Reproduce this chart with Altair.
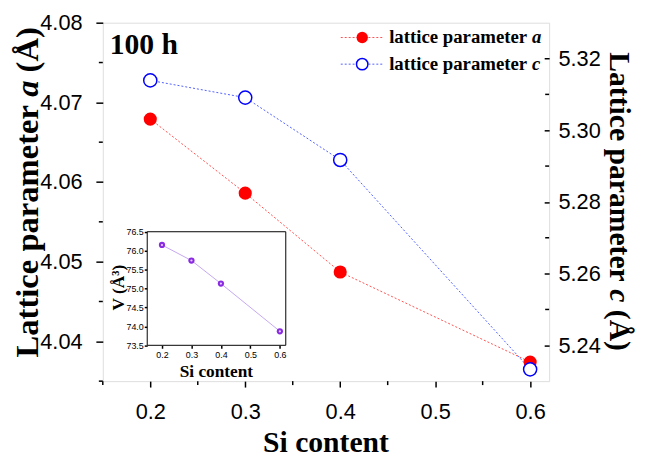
import altair as alt
import pandas as pd

# ---------------- data ----------------
si = [0.2, 0.3, 0.4, 0.6]
lat_a = [4.0679, 4.0586, 4.0487, 4.0374]
lat_c = [5.3139, 5.3091, 5.2917, 5.2333]
vol = [76.15, 75.74, 75.13, 73.87]

x_ticks = [0.2, 0.3, 0.4, 0.5, 0.6]
x_minor = [0.15, 0.25, 0.35, 0.45, 0.55]
a_ticks = [4.04, 4.05, 4.06, 4.07, 4.08]
a_minor = [4.035, 4.045, 4.055, 4.065, 4.075]
c_ticks = [5.24, 5.26, 5.28, 5.30, 5.32]
c_minor = [5.25, 5.27, 5.29, 5.31]
v_ticks = [73.5, 74.0, 74.5, 75.0, 75.5, 76.0, 76.5]

df = pd.DataFrame({"si": si, "a": lat_a, "c": lat_c, "v": vol})
one = pd.DataFrame({"k": [0]})

SERIF = "Liberation Serif"
SANS = "Liberation Sans"
W, H = 452, 363
XD = [0.15, 0.62]
AD = [4.035, 4.08]
CD = [5.23, 5.33]
VD = [73.5, 76.5]
IX0, IX1, IY0, IY1 = 45, 185.3, 211.7, 326.7  # inset box (plot coords)

RED = "#ff0000"
BLUE = "#0000ff"

# Times-Bold widths (per 1000 em)
TB = {"L": 667, "a": 500, "t": 333, "i": 278, "c": 444, "e": 444, " ": 250, "p": 556,
      "r": 444, "m": 833, "(": 333, ")": 333, "Å": 722, "l": 278}


def tw(s, size):
    return sum(TB.get(ch, 500) for ch in s) * size / 1000.0


def txt(s, x, y, size, angle=0, align="left", baseline="alphabetic",
        style="normal", family=SERIF, weight="bold"):
    return alt.Chart(one).mark_text(
        text=s, font=family, fontSize=size, fontWeight=weight, fontStyle=style,
        angle=angle, align=align, baseline=baseline, color="black"
    ).encode(x=alt.value(x), y=alt.value(y))


def xs(axis=None):
    return alt.X("si:Q", scale=alt.Scale(domain=XD, nice=False, zero=False), axis=axis)


ax_common = dict(labelFont=SANS, labelColor="black", tickColor="black", tickWidth=1.5,
                 domain=False, grid=False, title=None, labelFlush=False,
                 labelOverlap=False)

base = alt.Chart(df)

# inset background
inset_bg = alt.Chart(one).mark_rect(fill="white", stroke="black", strokeWidth=1).encode(
    x=alt.value(IX0), x2=alt.value(IX1), y=alt.value(IY0), y2=alt.value(IY1))

line_a = base.mark_line(color="#ff5050", strokeDash=[2, 2], strokeWidth=1).encode(
    x=xs(alt.Axis(orient="bottom", values=x_ticks, format=".1f", labelFontSize=22,
                  tickSize=6, labelPadding=15, **ax_common)),
    y=alt.Y("a:Q", scale=alt.Scale(domain=AD, nice=False, zero=False),
            axis=alt.Axis(orient="left", values=a_ticks, format=".2f", labelFontSize=22,
                          tickSize=7, labelPadding=14, **ax_common)))

line_c = base.mark_line(color="#5060ff", strokeDash=[2, 2], strokeWidth=1).encode(
    x=xs(),
    y=alt.Y("c:Q", scale=alt.Scale(domain=CD, nice=False, zero=False),
            axis=alt.Axis(orient="right", values=c_ticks, format=".2f", labelFontSize=22,
                          tickSize=5, offset=-5, labelPadding=9, **ax_common)))

pts_a = base.mark_point(shape="circle", filled=True, color=RED, size=177, opacity=1).encode(
    x=xs(), y=alt.Y("a:Q", scale=alt.Scale(domain=AD, nice=False, zero=False), axis=None))

pts_c = base.mark_point(shape="circle", filled=True, fill="white", stroke=BLUE,
                        strokeWidth=1.5, size=177, opacity=1).encode(
    x=xs(), y=alt.Y("c:Q", scale=alt.Scale(domain=CD, nice=False, zero=False), axis=None))

# minor ticks
mx = alt.Chart(pd.DataFrame({"m": x_minor})).mark_rule(color="black", strokeWidth=1.5).encode(
    x=alt.X("m:Q", scale=alt.Scale(domain=XD, nice=False, zero=False), axis=None),
    y=alt.value(H), y2=alt.value(H + 4))
ma = alt.Chart(pd.DataFrame({"m": a_minor})).mark_rule(color="black", strokeWidth=1.5).encode(
    y=alt.Y("m:Q", scale=alt.Scale(domain=AD, nice=False, zero=False), axis=None),
    x=alt.value(-4), x2=alt.value(0))
mc = alt.Chart(pd.DataFrame({"m": c_minor})).mark_rule(color="black", strokeWidth=1.5).encode(
    y=alt.Y("m:Q", scale=alt.Scale(domain=CD, nice=False, zero=False), axis=None),
    x=alt.value(W - 4), x2=alt.value(W))

# inset
ix = alt.X("si:Q", scale=alt.Scale(domain=XD, range=[IX0, IX1], nice=False, zero=False),
           axis=alt.Axis(orient="bottom", offset=IY1 - H, values=x_ticks, format=".1f",
                         labelFontSize=9, tickSize=3, labelPadding=2, **ax_common))
iy = alt.Y("v:Q", scale=alt.Scale(domain=VD, range=[IY1, IY0], nice=False, zero=False),
           axis=alt.Axis(orient="left", offset=-IX0, values=v_ticks, format=".1f",
                         labelFontSize=9, tickSize=3, labelPadding=1, **ax_common))
inset_line = base.mark_line(color="#c4a8f2", strokeWidth=1).encode(x=ix, y=iy)
ix2 = alt.X("si:Q", scale=alt.Scale(domain=XD, range=[IX0, IX1], nice=False, zero=False), axis=None)
iy2 = alt.Y("v:Q", scale=alt.Scale(domain=VD, range=[IY1, IY0], nice=False, zero=False), axis=None)
inset_pts = base.mark_point(shape="circle", filled=True, color="#8a2be2", size=40, opacity=1).encode(
    x=ix2, y=iy2)
inset_hl = base.mark_point(shape="circle", filled=True, color="#e6d0ff", size=5, opacity=1,
                           dx=-1, dy=-1).encode(x=ix2, y=iy2)

# texts
texts = []
texts.append(txt("100 h", 7, 32, 30))
# legend
for yy, col, filled, lab in [(15, "#ff5050", True, "a"), (42, "#5060ff", False, "c")]:
    texts.append(alt.Chart(one).mark_rule(color=col, strokeDash=[2, 2], strokeWidth=1).encode(
        x=alt.value(241), x2=alt.value(284), y=alt.value(yy)))
    if filled:
        texts.append(alt.Chart(one).mark_point(shape="circle", filled=True, color=RED, size=133,
                                               opacity=1).encode(x=alt.value(262.7), y=alt.value(yy)))
    else:
        texts.append(alt.Chart(one).mark_point(shape="circle", filled=True, fill="white", stroke=BLUE,
                                               strokeWidth=1.5, size=133, opacity=1).encode(
            x=alt.value(262.7), y=alt.value(yy)))
    s1 = "lattice parameter"
    texts.append(txt(s1, 290, yy, 19, baseline="middle"))
    texts.append(txt(lab, 290 + tw(s1 + " ", 19), yy, 19, baseline="middle", style="italic"))

# left title (reads bottom to top)
fL = 33
xL = -66
y0 = 339
s1 = "Lattice parameter"
texts.append(txt(s1, xL, y0, fL, angle=270))
ya = y0 - tw(s1 + " ", fL)
texts.append(txt("a", xL, ya, fL, angle=270, style="italic"))
yb = ya - tw("a ", fL)
texts.append(txt("(Å)", xL, yb, fL, angle=270))

# right title (reads top to bottom)
fR = 30
xR = 514
y0 = 30
texts.append(txt(s1, xR, y0, fR, angle=90))
ya = y0 + tw(s1 + " ", fR)
texts.append(txt("c", xR, ya, fR, angle=90, style="italic"))
yb = ya + tw("c ", fR)
texts.append(txt("(Å)", xR, yb, fR, angle=90))

# bottom title
texts.append(txt("Si content", W / 2, 435, 30, align="center"))
# inset titles
texts.append(txt("Si content", 115, 359, 17.5, align="center"))
texts.append(txt("V (Å³)", 21, 268.3, 17.5, angle=270, align="center"))

chart = alt.layer(
    inset_bg, line_a, line_c, pts_a, pts_c, mx, ma, mc,
    inset_line, inset_pts, inset_hl, *texts
).resolve_scale(x="independent", y="independent").properties(
    width=W, height=H,
    autosize=alt.AutoSizeParams(type="none"),
    padding={"left": 96, "top": 12, "right": 90, "bottom": 79},
).configure_view(stroke="black", strokeWidth=1.5).configure(background="white")

chart.save("out.html", embed_options={"renderer": "svg", "actions": False})
